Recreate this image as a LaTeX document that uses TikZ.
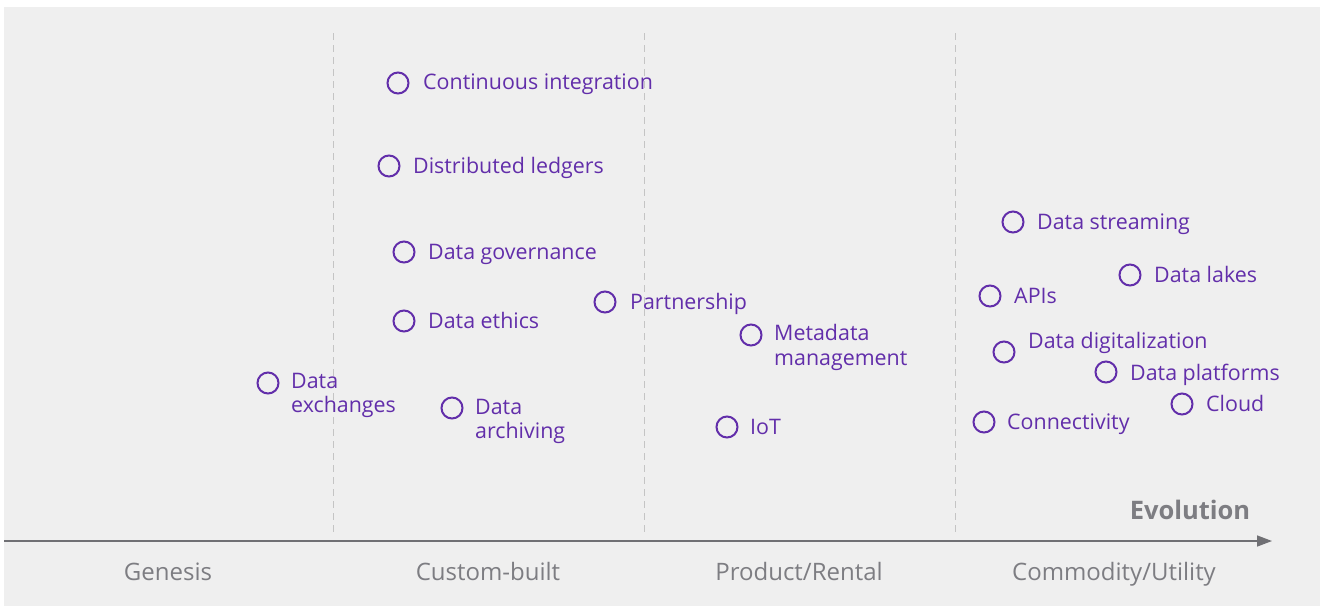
\documentclass[tikz,border=0pt]{standalone}
\usepackage{fontspec}
\setmainfont{Open Sans}
\usetikzlibrary{positioning}
\usetikzlibrary{calc}
\usetikzlibrary{arrows.meta}

\definecolor{bgGray}{RGB}{239,239,239}
\definecolor{mapPurple}{RGB}{98,46,170}
\definecolor{axisGray}{RGB}{112,112,116}
\definecolor{stageGray}{RGB}{125,125,130}
\definecolor{sepGray}{RGB}{196,196,196}

\tikzset{
  mapdot/.style={circle, draw=mapPurple, line width=2pt, minimum size=21pt, inner sep=0pt},
  lbl/.style={anchor=base west, inner sep=0pt, text=mapPurple, align=left,
    font=\fontsize{21.4}{24.5}\selectfont},
  stage/.style={anchor=base, inner sep=0pt, text=stageGray, font=\fontsize{24}{28}\selectfont},
  sep/.style={draw=sepGray, line width=1pt, dash pattern=on 7pt off 5pt},
  axis/.style={draw=axisGray, line width=1.5pt, -{Triangle[length=15pt,width=11pt]}},
}

\begin{document}
\begin{tikzpicture}[x=1pt, y=-1pt]
\useasboundingbox (0,0) rectangle (1320,606);
\fill[bgGray] (4,7) rectangle (1320,606);

% stage separators
\coordinate (top1) at (333,33);
\coordinate (bot1) at (333,535);
\coordinate (top2) at (644,33);
\coordinate (bot2) at (644,535);
\coordinate (top3) at (955,33);
\coordinate (bot3) at (955,535);
\draw[sep] (top1) -- (bot1);
\draw[sep] (top2) -- (bot2);
\draw[sep] (top3) -- (bot3);

% evolution axis
\coordinate (axisL) at (4,541);
\coordinate (axisR) at (1272,541);
\draw[axis] (axisL) -- (axisR);
\node[anchor=base, inner sep=0pt, text=stageGray, font=\fontsize{25.5}{30}\selectfont\bfseries] (evo) at (1190,519) {Evolution};

\node[stage] (st0) at (168,580.5) {Genesis};
\node[stage] (st1) at (488,580.5) {Custom-built};
\node[stage] (st2) at (799,580.5) {Product/Rental};
\node[stage] (st3) at (1114,580.5) {Commodity/Utility};

% components
\node[mapdot] (dot0) at (398,83) {};
\node[mapdot] (dot1) at (389,166) {};
\node[mapdot] (dot2) at (404,252) {};
\node[mapdot] (dot3) at (404,321) {};
\node[mapdot] (dot4) at (605,302) {};
\node[mapdot] (dot5) at (751,335) {};
\node[mapdot] (dot6) at (268,383) {};
\node[mapdot] (dot7) at (452,408) {};
\node[mapdot] (dot8) at (727,427) {};
\node[mapdot] (dot9) at (1013,222) {};
\node[mapdot] (dot10) at (1130,275) {};
\node[mapdot] (dot11) at (990,296) {};
\node[mapdot] (dot12) at (1004,352) {};
\node[mapdot] (dot13) at (1106,372) {};
\node[mapdot] (dot14) at (1182,404) {};
\node[mapdot] (dot15) at (984,422) {};

\node[lbl] (lab0) at ($(dot0)+(25,6.5)$) {Continuous integration};
\node[lbl] (lab1) at ($(dot1)+(24,7.5)$) {Distributed ledgers};
\node[lbl] (lab2) at ($(dot2)+(24,7.5)$) {Data governance};
\node[lbl] (lab3) at ($(dot3)+(24,7.5)$) {Data ethics};
\node[lbl] (lab4) at ($(dot4)+(25,7.5)$) {Partnership};
\node[lbl] (lab5) at ($(dot5)+(23,30)$) {Metadata\\management};
\node[lbl] (lab6) at ($(dot6)+(23,29.5)$) {Data\\exchanges};
\node[lbl] (lab7) at ($(dot7)+(23,30.5)$) {Data\\archiving};
\node[lbl] (lab8) at ($(dot8)+(23,7.5)$) {IoT};
\node[lbl] (lab9) at ($(dot9)+(24,7.5)$) {Data streaming};
\node[lbl] (lab10) at ($(dot10)+(24,7.5)$) {Data lakes};
\node[lbl] (lab11) at ($(dot11)+(24,7.5)$) {APIs};
\node[lbl] (lab12) at ($(dot12)+(24,-3.5)$) {Data digitalization};
\node[lbl] (lab13) at ($(dot13)+(24,8.5)$) {Data platforms};
\node[lbl] (lab14) at ($(dot14)+(24,7.5)$) {Cloud};
\node[lbl] (lab15) at ($(dot15)+(23,7.5)$) {Connectivity};
\end{tikzpicture}
\end{document}
